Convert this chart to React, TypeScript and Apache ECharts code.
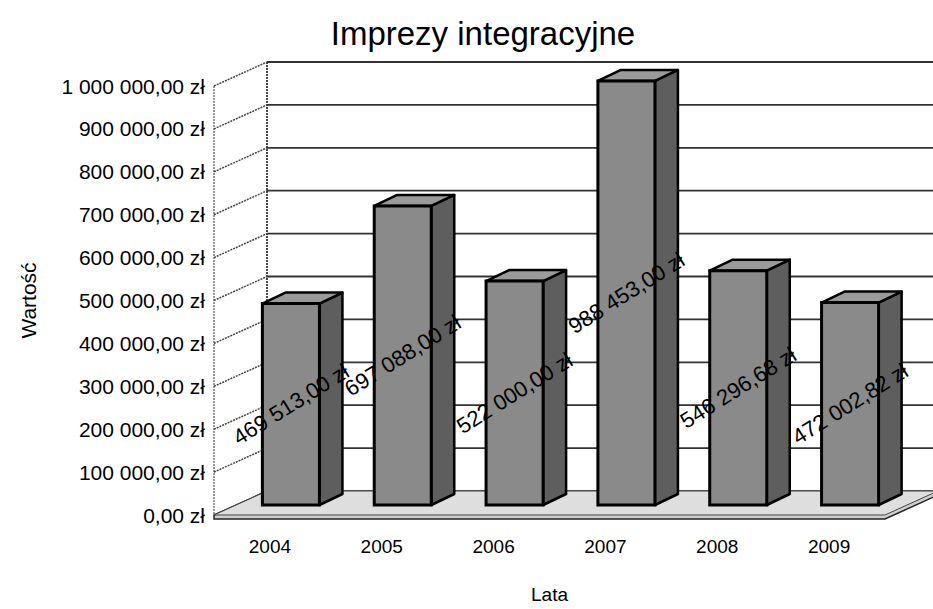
import React, { useEffect, useRef } from "react";
import * as echarts from "echarts";

const titleText = "Imprezy integracyjne";
const years = ["2004", "2005", "2006", "2007", "2008", "2009"];
const values = [469513, 697088, 522000, 988453, 546296.68, 472002.82];
const tickValues = [0, 100000, 200000, 300000, 400000, 500000, 600000, 700000, 800000, 900000, 1000000];
const yAxisName = "Wartość";
const xAxisName = "Lata";

const FONT = '"Liberation Sans", Arial, sans-serif';
const WALL_DX = 53;
const WALL_DY = -24;
const BAR_OFF_X = 21;
const BAR_OFF_Y = -10;
const BAR_DX = 23;
const BAR_DY = -11;
const BAR_RATIO = 0.51;

function fmtZl(v: number): string {
  const s = v.toFixed(2);
  const [intPart, dec] = s.split(".");
  const withSpaces = intPart.replace(/\B(?=(\d{3})+(?!\d))/g, " ");
  return withSpaces + "," + dec + " zł";
}

export default function App() {
  const ref = useRef<HTMLDivElement>(null);
  useEffect(() => {
    document.body.style.margin = "0";
    const chart = echarts.init(ref.current!, undefined, { renderer: "svg" });

    const wallsRender = (params: any, api: any) => {
      const cs = params.coordSys;
      const x0 = cs.x;
      const x1 = cs.x + cs.width;
      const y0 = cs.y + cs.height;
      const yTop = cs.y;
      const v = api.value(1);
      const y = api.coord([0, v])[1];
      const children: any[] = [];
      if (params.dataIndex === 0) {
        children.push({
          type: "polygon",
          shape: { points: [[x0, y0 + 4], [x1, y0 + 4], [x1 + WALL_DX, y0 + WALL_DY + 4], [x1 + WALL_DX, y0 + WALL_DY], [x0 + WALL_DX, y0 + WALL_DY], [x0, y0]] },
          style: { fill: "#cfcfcf", stroke: "#222", lineWidth: 1.5 },
        });
        children.push({
          type: "polygon",
          shape: { points: [[x0, y0], [x1, y0], [x1 + WALL_DX, y0 + WALL_DY], [x0 + WALL_DX, y0 + WALL_DY]] },
          style: { fill: "#dedede", stroke: "#444", lineWidth: 1 },
        });
        children.push({
          type: "line",
          shape: { x1: x0, y1: yTop, x2: x0, y2: y0 },
          style: { stroke: "#555", lineWidth: 1.2, lineDash: [2, 1] },
        });
        children.push({
          type: "line",
          shape: { x1: x0 + WALL_DX, y1: yTop + WALL_DY, x2: x0 + WALL_DX, y2: y0 + WALL_DY },
          style: { stroke: "#333", lineWidth: 1.8, lineDash: [2, 1] },
        });
      }
      if (v > 0) {
        children.push({
          type: "line",
          shape: { x1: x0, y1: y, x2: x0 + WALL_DX, y2: y + WALL_DY },
          style: { stroke: "#444", lineWidth: 1.5, lineDash: [2, 1] },
        });
        children.push({
          type: "line",
          shape: { x1: x0 + WALL_DX, y1: y + WALL_DY, x2: x1 + WALL_DX, y2: y + WALL_DY },
          style: { stroke: "#333", lineWidth: 1.8 },
        });
      }
      return { type: "group", children };
    };

    const barsRender = (params: any, api: any) => {
      const idx = api.value(0);
      const val = api.value(1);
      const top = api.coord([idx, val]);
      const base = api.coord([idx, 0]);
      const band = api.size([1, 0])[0];
      const w = band * BAR_RATIO;
      const cx = top[0] + BAR_OFF_X;
      const xl = cx - w / 2;
      const xr = cx + w / 2;
      const yt = top[1] + BAR_OFF_Y;
      const yb = base[1] + BAR_OFF_Y;
      const stroke = "#000";
      return {
        type: "group",
        children: [
          {
            type: "polygon",
            shape: { points: [[xr, yt], [xr + BAR_DX, yt + BAR_DY], [xr + BAR_DX, yb + BAR_DY], [xr, yb]] },
            style: { fill: "#5e5e5e", stroke, lineWidth: 2.5, lineJoin: "round" },
          },
          {
            type: "polygon",
            shape: { points: [[xl, yt], [xl + BAR_DX, yt + BAR_DY], [xr + BAR_DX, yt + BAR_DY], [xr, yt]] },
            style: { fill: "#9a9a9a", stroke, lineWidth: 2.5, lineJoin: "round" },
          },
          {
            type: "rect",
            shape: { x: xl, y: yt, width: w, height: yb - yt },
            style: { fill: "#8a8a8a", stroke, lineWidth: 3 },
          },
        ],
      };
    };

    const labelsRender = (params: any, api: any) => {
      const idx = api.value(0);
      const val = api.value(1);
      const top = api.coord([idx, val]);
      const base = api.coord([idx, 0]);
      const cx = top[0] + BAR_OFF_X;
      const cy = (top[1] + base[1]) / 2 + BAR_OFF_Y;
      return {
        type: "text",
        x: cx,
        y: cy,
        rotation: 0.56,
        style: {
          text: fmtZl(val),
          fill: "#000",
          font: "22px " + FONT,
          align: "center",
          verticalAlign: "middle",
        },
      };
    };

    chart.setOption({
      animation: false,
      backgroundColor: "#fff",
      title: {
        text: titleText,
        left: 478,
        top: 12,
        textAlign: "center",
        textStyle: { fontFamily: FONT, fontSize: 33, fontWeight: "normal", color: "#000" },
      },
      grid: { left: 214, right: 48, top: 86, bottom: 93 },
      xAxis: {
        type: "category",
        data: years,
        axisLine: { show: false },
        axisTick: { show: false },
        splitLine: { show: false },
        axisLabel: { fontFamily: FONT, fontSize: 19, color: "#000", margin: 22 },
        name: xAxisName,
        nameLocation: "middle",
        nameGap: 70,
        nameTextStyle: { fontFamily: FONT, fontSize: 19, color: "#000" },
      },
      yAxis: {
        type: "value",
        min: 0,
        max: 1000000,
        interval: 100000,
        axisLine: { show: false },
        axisTick: { show: false },
        splitLine: { show: false },
        axisLabel: {
          fontFamily: FONT,
          fontSize: 21,
          color: "#000",
          margin: 9,
          formatter: (v: number) => fmtZl(v),
        },
        name: yAxisName,
        nameLocation: "middle",
        nameRotate: 90,
        nameGap: 175,
        nameTextStyle: { fontFamily: FONT, fontSize: 21, color: "#000" },
      },
      series: [
        {
          type: "custom",
          name: "walls",
          z: 1,
          silent: true,
          renderItem: wallsRender,
          data: tickValues.map((v) => [0, v]),
        },
        {
          type: "custom",
          name: "bars",
          z: 2,
          renderItem: barsRender,
          data: values.map((v, i) => [i, v]),
        },
        {
          type: "custom",
          name: "labels",
          z: 3,
          silent: true,
          renderItem: labelsRender,
          data: values.map((v, i) => [i, v]),
        },
      ],
    });
    return () => chart.dispose();
  }, []);
  return <div ref={ref} style={{ width: 933, height: 609 }} />;
}
